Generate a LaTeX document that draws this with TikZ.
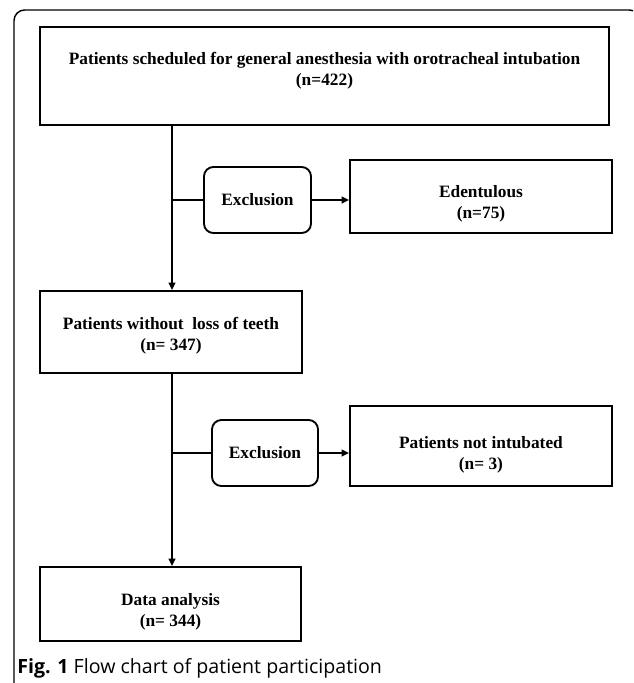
\documentclass[tikz,border=0pt]{standalone}
\usepackage{fontspec}
\setmainfont{Liberation Serif}
\newfontfamily\capfont{Open Sans}
\usetikzlibrary{arrows.meta}
\begin{document}
\begin{tikzpicture}[x=0.75pt,y=-0.75pt,
  box/.style={draw, line width=1.4pt, inner sep=0pt},
  exclbox/.style={draw, line width=1.4pt, rounded corners=7pt, inner sep=0pt},
  lbl/.style={font=\bfseries\fontsize{13}{16}\selectfont, align=center, inner sep=0pt},
  conn/.style={line width=1.4pt},
  arr/.style={conn, -{Triangle[length=5.5pt,width=5pt]}},
  frame/.style={line width=1.1pt, rounded corners=8pt}]
\useasboundingbox (0,0) rectangle (633,683);
\begin{scope}
\clip (0,0) rectangle (633,683);
\draw[frame] (14,720) -- (14,10) -- (640,10) -- (640,720);
\end{scope}
% boxes
\node[box, minimum width=426.75pt, minimum height=73.5pt] (top) at (324.5,76) {};
\node[lbl] (topt) at (324.5,71) {Patients scheduled for general anesthesia with orotracheal intubation\\(n=422)};
\node[exclbox, minimum width=80.25pt, minimum height=49.5pt] (exc1) at (257.5,200) {};
\node[lbl] (exc1t) at (exc1.center) {Exclusion};
\node[box, minimum width=196.5pt, minimum height=54.75pt] (ede) at (481,196.5) {};
\node[lbl] (edet) at (481,204) {Edentulous\\(n=75)};
\node[box, minimum width=196.5pt, minimum height=61.5pt] (p2) at (171,332) {};
\node[lbl] (p2t) at (171,336) {Patients without\ \ loss of teeth\\(n= 347)};
\node[exclbox, minimum width=79.5pt, minimum height=49.5pt] (exc2) at (265,453) {};
\node[lbl] (exc2t) at (exc2.center) {Exclusion};
\node[box, minimum width=196.5pt, minimum height=60pt] (pni) at (481,446) {};
\node[lbl] (pnit) at (481,455) {Patients not intubated\\(n= 3)};
\node[box, minimum width=195.75pt, minimum height=55.5pt] (data) at (170.5,604) {};
\node[lbl] (datat) at (170.5,612) {Data analysis\\(n= 344)};
% junctions
\coordinate (j1) at (172,200);
\coordinate (j2) at (172,453);
% connectors
\draw[arr] (top.south -| j1) -- (j1 |- p2.north);
\draw[conn] (j1) -- (exc1.west);
\draw[arr] (exc1.east) -- (exc1.east -| ede.west);
\draw[arr] (p2.south -| j2) -- (j2 |- data.north);
\draw[conn] (j2) -- (exc2.west);
\draw[arr] (exc2.east) -- (exc2.east -| pni.west);
% caption
\node[anchor=base west, inner sep=0pt, font=\capfont\fontsize{14.7}{17}\selectfont] (cap) at (17,673) {\textbf{Fig. 1} Flow chart of patient participation};
\end{tikzpicture}
\end{document}
